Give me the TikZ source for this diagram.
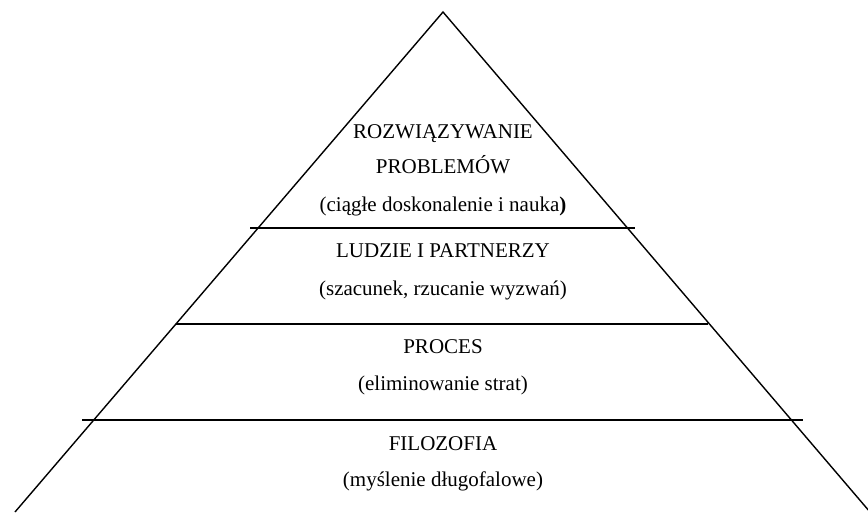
\documentclass[tikz,border=0pt]{standalone}
\usepackage{fontspec}
\setmainfont{Liberation Serif}
\usetikzlibrary{positioning}

\begin{document}
\begin{tikzpicture}[
    x=1pt, y=-1pt,
    level/.style={inner sep=0pt, anchor=base, align=center, font=\fontsize{21}{25}\selectfont},
    edge/.style={line width=1.4pt}
]
\useasboundingbox (0,0) rectangle (868,512);

% Corners
\coordinate (apex) at (443,12);
\coordinate (baseleft) at (15,512);
\coordinate (baseright) at (870,512);

% Dividers
\coordinate (d1l) at (250,228);
\coordinate (d1r) at (635,228);
\coordinate (d2l) at (176,324);
\coordinate (d2r) at (708,324);
\coordinate (d3l) at (82,420);
\coordinate (d3r) at (803,420);

% Nodes
\node[level] (problems) at (443,138) {ROZWIĄZYWANIE};
\node[level] (problems2) at (443,173) {PROBLEMÓW};
\node[level] (problemsnote) at (443,211) {(ciągłe doskonalenie i nauka\textbf{)}};
\node[level] (people) at (443,257) {LUDZIE I PARTNERZY};
\node[level] (peoplenote) at (443,295) {(szacunek, rzucanie wyzwań)};
\node[level] (process) at (443,353) {PROCES};
\node[level] (processnote) at (443,390) {(eliminowanie strat)};
\node[level] (philosophy) at (443,450) {FILOZOFIA};
\node[level] (philosophynote) at (443,486) {(myślenie długofalowe)};

% Lines
\draw[edge] (baseleft) -- (apex) -- (baseright);
\draw[edge] (d1l) -- (d1r);
\draw[edge] (d2l) -- (d2r);
\draw[edge] (d3l) -- (d3r);

\end{tikzpicture}
\end{document}
